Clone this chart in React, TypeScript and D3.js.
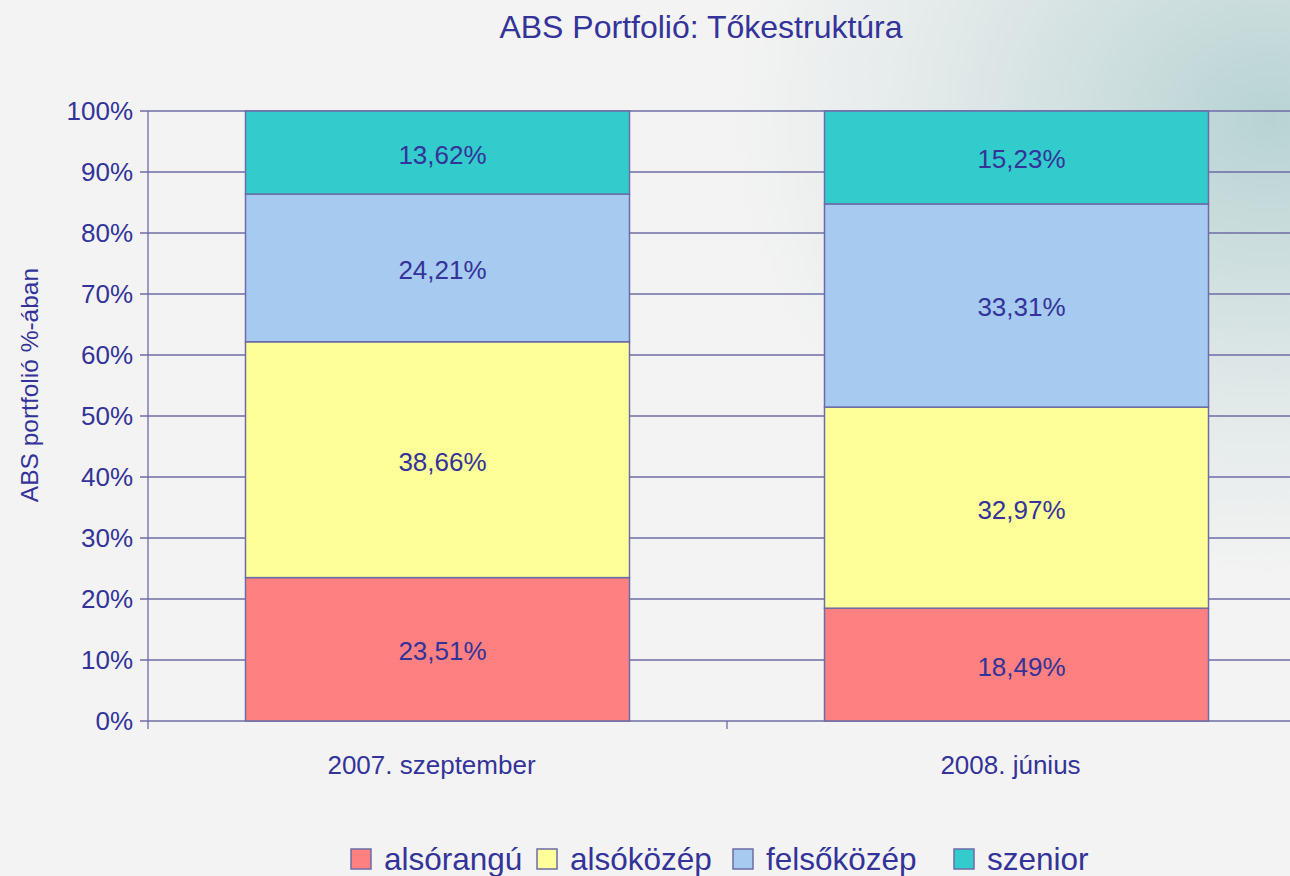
import React from 'react';
import * as d3 from 'd3';

const categories = ['2007. szeptember', '2008. június'];
const seriesNames = ['alsórangú', 'alsóközép', 'felsőközép', 'szenior'];
const seriesColors = ['#ff8080', '#ffff99', '#a6caf0', '#33cccc'];
const alsorangu = [23.51, 18.49];
const alsokozep = [38.66, 32.97];
const felsokozep = [24.21, 33.31];
const szenior = [13.62, 15.23];
const yTicks = [0, 10, 20, 30, 40, 50, 60, 70, 80, 90, 100];

const W = 1290;
const H = 876;
const INK = '#333399';
const LINE = '#6c6ca6';
const FONT = '"Liberation Sans", Arial, sans-serif';

const App: React.FC = () => {
  const rows = categories.map((c, i) => ({
    cat: c,
    [seriesNames[0]]: alsorangu[i],
    [seriesNames[1]]: alsokozep[i],
    [seriesNames[2]]: felsokozep[i],
    [seriesNames[3]]: szenior[i],
  }));
  const stacked = d3.stack<any>().keys(seriesNames)(rows);

  const x = d3.scaleBand().domain(categories).range([148, 1306]).paddingInner(0).paddingOuter(0);
  const barW = 384;
  const y = d3.scaleLinear().domain([0, 100]).range([721, 111]);
  const fmt = (v: number) => d3.format('.2f')(v).replace('.', ',') + '%';

  const legendX = [351, 537, 733, 954];

  return (
    <svg width={W} height={H} style={{ position: 'absolute', left: 0, top: 0 }} fontFamily={FONT}>
      <defs>
        <radialGradient
          id="bg"
          cx={1270}
          cy={120}
          r={540}
          gradientUnits="userSpaceOnUse"
          gradientTransform="translate(1270 120) scale(1 0.85) translate(-1270 -120)"
        >
          <stop offset="0%" stopColor="#b8d3d3" />
          <stop offset="30%" stopColor="#cddede" />
          <stop offset="65%" stopColor="#e4eaea" />
          <stop offset="100%" stopColor="#f3f3f3" />
        </radialGradient>
      </defs>
      <rect width={W} height={H} fill="#f3f3f3" />
      <rect width={W} height={H} fill="url(#bg)" />

      <text x={701} y={38} textAnchor="middle" fontSize={32} fill={INK}>
        ABS Portfolió: Tőkestruktúra
      </text>

      {yTicks.map((t) => (
        <g key={t}>
          <line x1={140} x2={1306} y1={y(t)} y2={y(t)} stroke={LINE} strokeWidth={1.3} />
          <text x={133} y={y(t) + 9} textAnchor="end" fontSize={26} fill={INK}>
            {t}%
          </text>
        </g>
      ))}
      <line x1={148} x2={148} y1={111} y2={729} stroke={LINE} strokeWidth={1.3} />
      <line x1={727} x2={727} y1={721} y2={729} stroke={LINE} strokeWidth={1.3} />

      <text
        transform={`translate(38,385) rotate(-90)`}
        textAnchor="middle"
        fontSize={24.5}
        fill={INK}
      >
        ABS portfolió %-ában
      </text>

      {stacked.map((s, si) => (
        <g key={s.key}>
          {s.map((d, i) => {
            const cx = (x(categories[i]) as number) + x.bandwidth() / 2;
            const y0 = y(d[0]);
            const y1 = y(d[1]);
            return (
              <g key={i}>
                <rect
                  x={cx - barW / 2}
                  y={y1}
                  width={barW}
                  height={y0 - y1}
                  fill={seriesColors[si]}
                  stroke={LINE}
                  strokeWidth={1.5}
                />
                <text x={cx + 5} y={(y0 + y1) / 2 + 11} textAnchor="middle" fontSize={26} fill={INK}>
                  {fmt(d[1] - d[0])}
                </text>
              </g>
            );
          })}
        </g>
      ))}

      {categories.map((c) => (
        <text
          key={c}
          x={(x(c) as number) + x.bandwidth() / 2 - 6}
          y={774}
          textAnchor="middle"
          fontSize={26}
          fill={INK}
        >
          {c}
        </text>
      ))}

      {seriesNames.map((n, i) => (
        <g key={n}>
          <rect x={legendX[i]} y={849} width={20} height={20} fill={seriesColors[i]} stroke={LINE} strokeWidth={1.5} />
          <text x={legendX[i] + 33} y={870} fontSize={31.5} fill={INK}>
            {n}
          </text>
        </g>
      ))}
    </svg>
  );
};

export default App;
